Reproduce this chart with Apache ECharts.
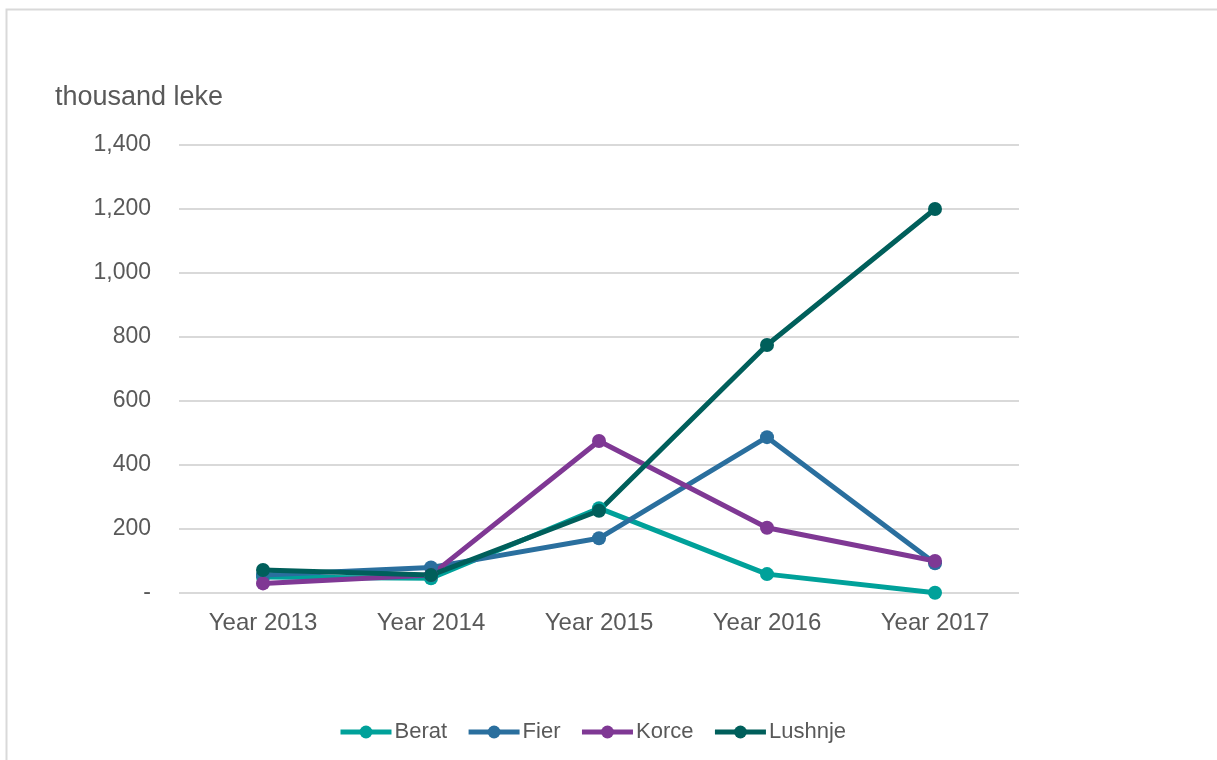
<!DOCTYPE html>
<html>
<head>
<meta charset="utf-8">
<script src="https://cdn.jsdelivr.net/npm/echarts@6/dist/echarts.min.js"></script>
<style>
  html, body { margin: 0; padding: 0; background: #fff; }
  #chart { width: 1217px; height: 760px; }
</style>
</head>
<body>
<div id="chart"></div>
<script>
// 数据
var years = ['Year 2013', 'Year 2014', 'Year 2015', 'Year 2016', 'Year 2017']
var berat = [50, 46, 265, 59, 1]
var fier = [56, 80, 171, 487, 93]
var korce = [30, 56, 475, 204, 100]
var lushnje = [72, 56, 257, 775, 1200]
var seriesNames = ['Berat', 'Fier', 'Korce', 'Lushnje']
var seriesColors = ['#00A19A', '#2A6F9E', '#7F3894', '#005F5B']

var textColor = '#595959'
var font = 'Liberation Sans, Arial, sans-serif'

var chart = echarts.init(document.getElementById('chart'))

function makeLine (name, data, color) {
  return {
    name: name,
    type: 'line',
    data: data,
    symbol: 'circle',
    symbolSize: 14,
    color: color,
    lineStyle: { width: 5, color: color },
    itemStyle: { color: color },
    emphasis: { disabled: true }
  }
}

chart.setOption({
  animation: false,
  backgroundColor: '#fff',
  textStyle: { fontFamily: font },
  graphic: [{
    type: 'rect',
    shape: { x: 6.5, y: 9.5, width: 1300, height: 900 },
    style: { fill: 'none', stroke: '#d9d9d9', lineWidth: 2 },
    silent: true
  }, {
    type: 'text',
    left: 55,
    top: 84,
    style: { text: 'thousand leke', fill: textColor, font: '27px ' + font }
  }],
  grid: { left: 179, right: 198, top: 145, bottom: 167, containLabel: false },
  legend: {
    left: 333,
    top: 716,
    itemWidth: 51,
    itemHeight: 16,
    itemGap: 19,
    lineStyle: { width: 5 },
    textStyle: { color: textColor, fontSize: 22, fontFamily: font, padding: [0, 0, 0, -2] },
    data: seriesNames
  },
  xAxis: {
    type: 'category',
    data: years,
    boundaryGap: true,
    axisLine: { show: false },
    axisTick: { show: false },
    axisLabel: { color: textColor, fontSize: 24, fontFamily: font, margin: 18 }
  },
  yAxis: {
    type: 'value',
    min: 0,
    max: 1400,
    interval: 200,
    axisLine: { show: false },
    axisTick: { show: false },
    splitLine: { lineStyle: { color: '#d9d9d9', width: 2 } },
    axisLabel: {
      color: textColor,
      fontSize: 23,
      fontFamily: font,
      margin: 28,
      formatter: function (v) { return v === 0 ? '-' : v.toLocaleString('en-US') }
    }
  },
  series: [
    makeLine(seriesNames[0], berat, seriesColors[0]),
    makeLine(seriesNames[1], fier, seriesColors[1]),
    makeLine(seriesNames[2], korce, seriesColors[2]),
    makeLine(seriesNames[3], lushnje, seriesColors[3])
  ]
})
</script>
</body>
</html>
